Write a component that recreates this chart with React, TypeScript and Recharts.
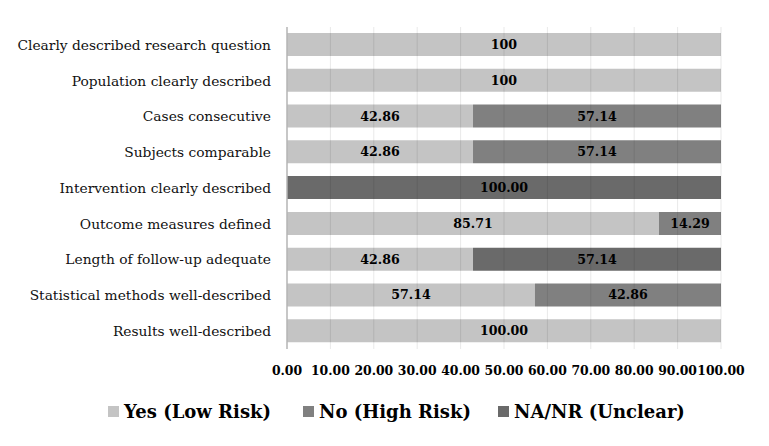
import React from 'react';
import { BarChart, Bar, XAxis, YAxis, Legend, LabelList, ReferenceLine } from 'recharts';

const categories = [
  'Clearly described research question',
  'Population clearly described',
  'Cases consecutive',
  'Subjects comparable',
  'Intervention clearly described',
  'Outcome measures defined',
  'Length of follow-up adequate',
  'Statistical methods well-described',
  'Results well-described',
];
const yesLowRisk = [100, 100, 42.86, 42.86, 0, 85.71, 42.86, 57.14, 100];
const noHighRisk = [0, 0, 57.14, 57.14, 0, 14.29, 0, 42.86, 0];
const naUnclear = [0, 0, 0, 0, 100, 0, 57.14, 0, 0];
// the first two rows are labelled "100", the rest with two decimals
const labelDecimals = [0, 0, 2, 2, 2, 2, 2, 2, 2];
const xTicks = [0, 10, 20, 30, 40, 50, 60, 70, 80, 90, 100];
const gridLines = [10, 20, 30, 40, 50, 60, 70, 80, 90, 100];

const seriesNames = ['Yes (Low Risk)', 'No (High Risk)', 'NA/NR (Unclear)'];
const seriesKeys = ['yes', 'no', 'na'];
const colors = ['#c4c4c4', '#808080', '#6a6a6a'];

// only serif face that resolves in the sandbox
const FONT = 'DejaVu Serif';

const fmt = (v: number, d: number) => (v ? v.toFixed(d) : '');

const data = categories.map((name, i) => ({
  name,
  yes: yesLowRisk[i],
  no: noHighRisk[i],
  na: naUnclear[i],
  yesLabel: fmt(yesLowRisk[i], labelDecimals[i]),
  noLabel: fmt(noHighRisk[i], labelDecimals[i]),
  naLabel: fmt(naUnclear[i], labelDecimals[i]),
}));

// figure frame: top, left and bottom edges (the right edge is cropped off in the original)
const line = 'linear-gradient(#1a1a1a, #1a1a1a)';
const frameStyle = {
  backgroundColor: '#fff',
  backgroundImage: `${line}, ${line}, ${line}`,
  backgroundRepeat: 'no-repeat',
  backgroundPosition: '3px 3px, 3px 3px, 3px 443px',
  backgroundSize: '766px 2px, 2px 442px, 766px 2px',
};

const LegendBox = () => (
  <div
    style={{
      display: 'flex',
      alignItems: 'center',
      paddingLeft: 108,
      paddingTop: 12,
      fontFamily: FONT,
      fontWeight: 'bold',
      fontSize: 18,
      color: '#000',
      whiteSpace: 'nowrap',
    }}
  >
    {seriesNames.map((name, i) => (
      <div key={name} style={{ display: 'flex', alignItems: 'center', width: 195 }}>
        <span style={{ width: 11, height: 11, background: colors[i], marginRight: 5, display: 'inline-block' }} />
        <span>{name}</span>
      </div>
    ))}
  </div>
);

export default function App() {
  return (
    <div style={{ width: 769, height: 446, margin: -8 }}>
      <BarChart
        width={769}
        height={446}
        data={data}
        layout="vertical"
        margin={{ top: 27, right: 48, left: 0, bottom: 0 }}
        barSize={23}
        style={frameStyle}
      >
        <XAxis
          type="number"
          domain={[0, 100]}
          ticks={xTicks}
          interval={0}
          height={40}
          axisLine={false}
          tickLine={false}
          tickMargin={11}
          tickFormatter={(v: number) => v.toFixed(2)}
          tick={{ fill: '#000', fontFamily: FONT, fontWeight: 'bold', fontSize: 12.4 }}
        />
        <YAxis
          type="category"
          dataKey="name"
          width={287}
          interval={0}
          tickLine={false}
          tickMargin={10}
          axisLine={{ stroke: '#b4b4b4', strokeWidth: 1.5 }}
          tick={{ fill: '#111', fontFamily: FONT, fontSize: 13.8 }}
        />
        {seriesKeys.map((key, i) => (
          <Bar key={key} dataKey={key} name={seriesNames[i]} stackId="a" fill={colors[i]} isAnimationActive={false}>
            <LabelList
              dataKey={`${key}Label`}
              position="center"
              fill="#000"
              fontFamily={FONT}
              fontWeight="bold"
              fontSize={12.6}
            />
          </Bar>
        ))}
        {gridLines.map((v) => (
          <ReferenceLine key={v} x={v} stroke="#000" strokeOpacity={0.09} strokeWidth={1} />
        ))}
        <Legend
          verticalAlign="bottom"
          height={57}
          content={<LegendBox />}
          wrapperStyle={{ left: 0, top: 389, bottom: 'auto', width: 769, height: 57 }}
        />
      </BarChart>
    </div>
  );
}
